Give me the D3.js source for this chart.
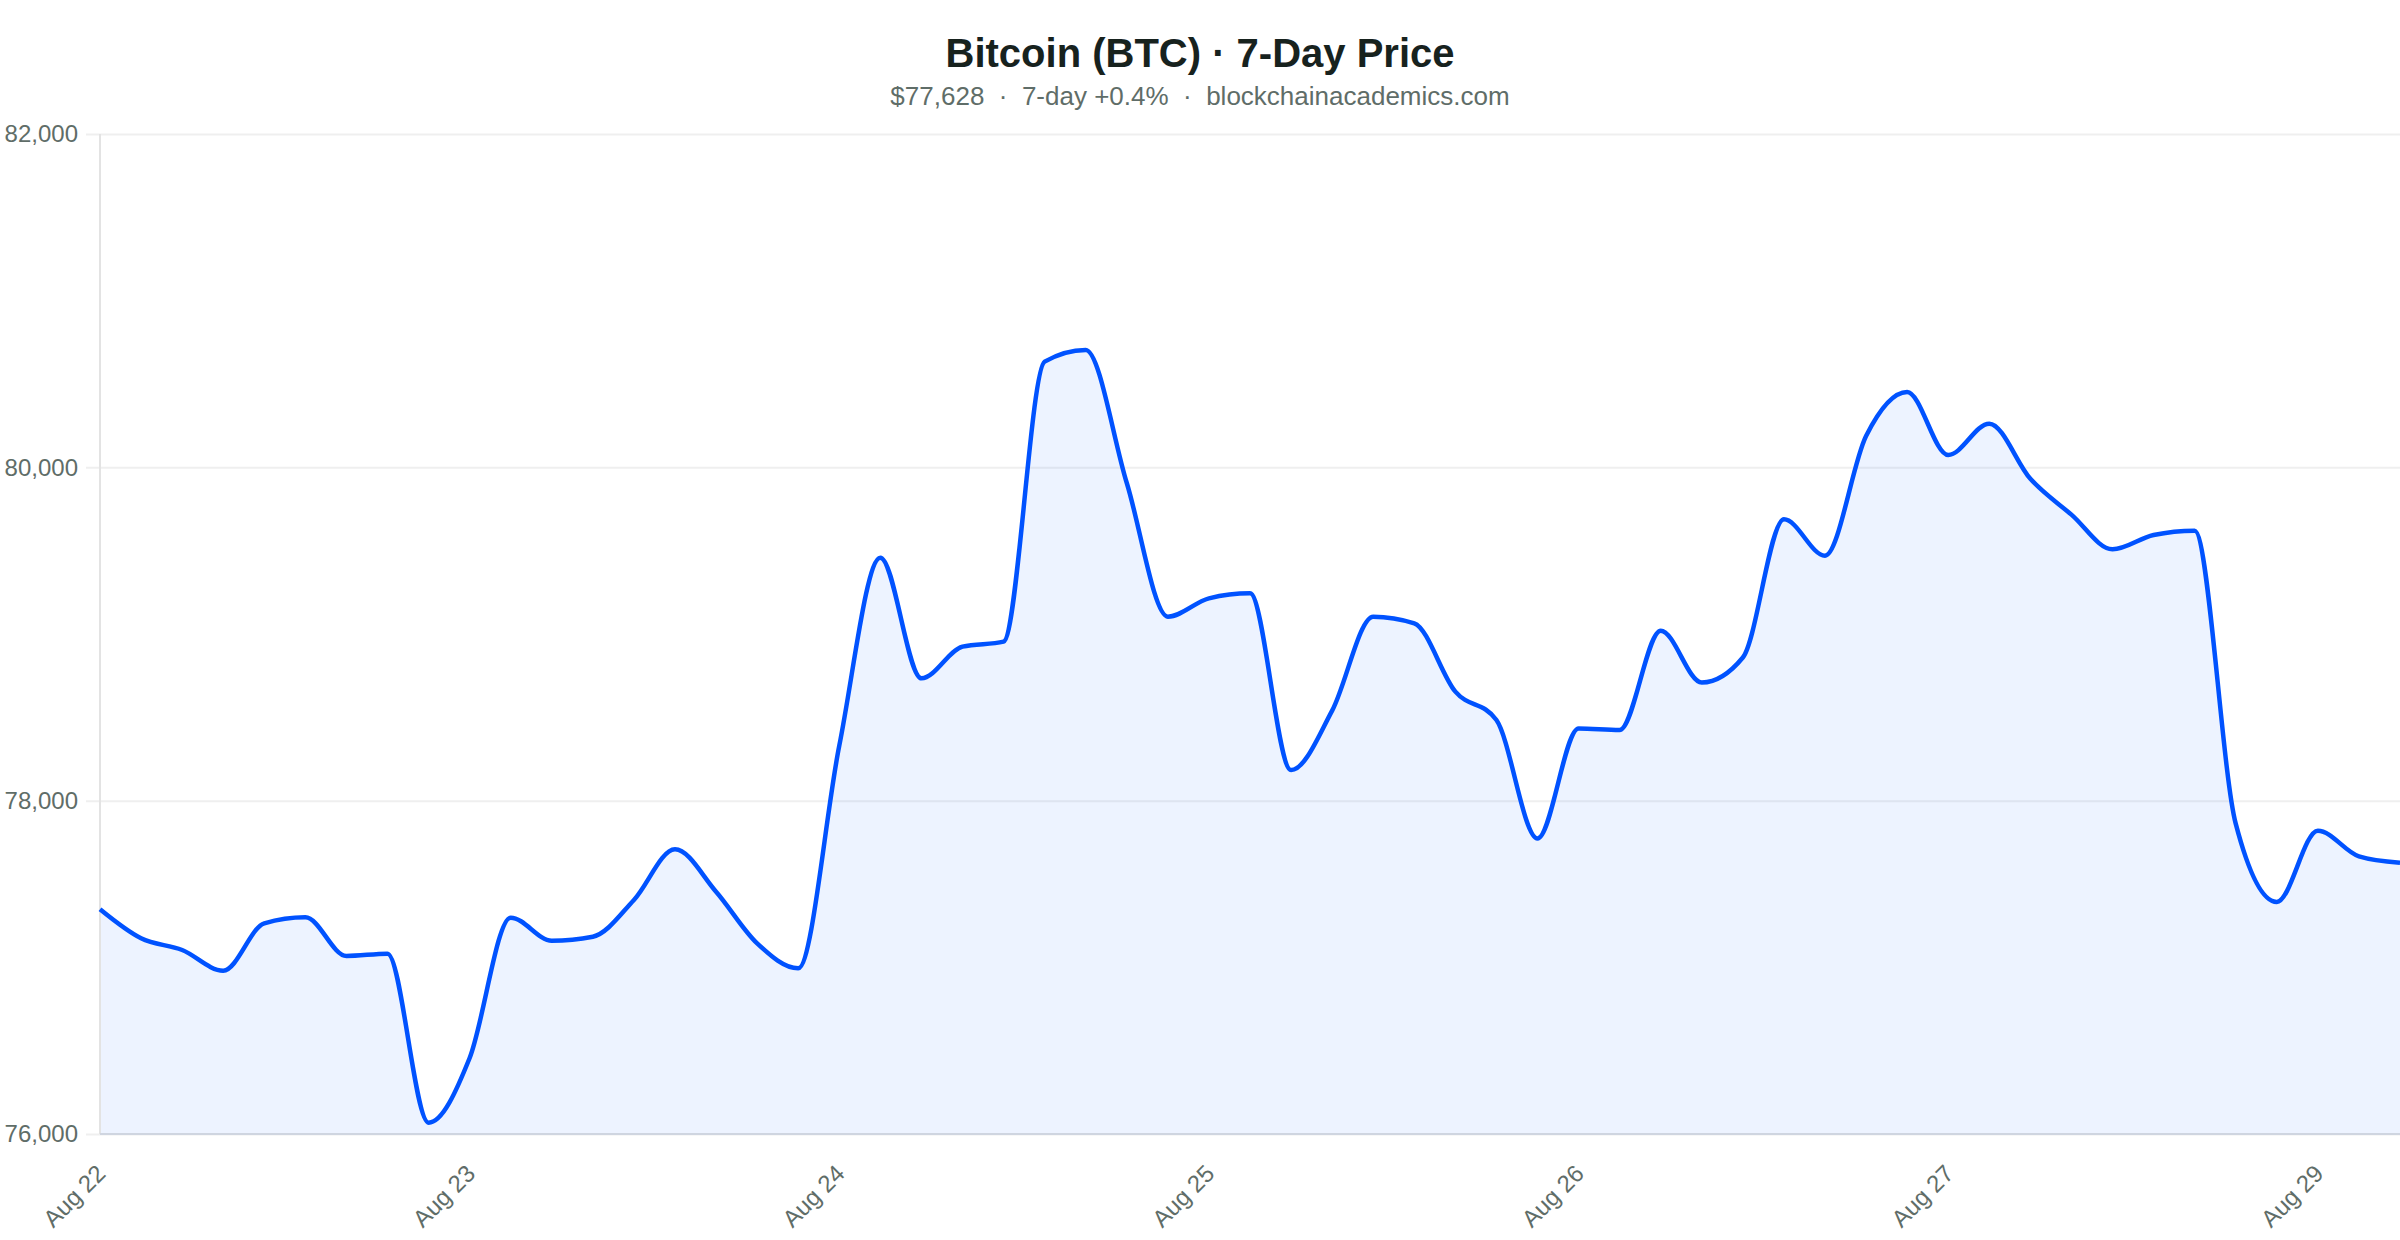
<!DOCTYPE html>
<html>
<head>
<meta charset="utf-8">
<script src="https://cdn.jsdelivr.net/npm/d3@7"></script>
<style>
  html, body { margin: 0; padding: 0; background: #ffffff; }
  svg { display: block; font-family: "Liberation Sans", Arial, Helvetica, sans-serif; }
</style>
</head>
<body>
<svg id="chart" width="2400" height="1240"></svg>
<script>
// ---- data ----
const prices = [
  77348, 77174, 77104, 76980, 77264, 77300, 77068, 77082, 76068, 76456,
  77298, 77160, 77184, 77404, 77708, 77454, 77144, 76994, 78330, 79458,
  78734, 78924, 78954, 80634, 80704, 79906, 79104, 79214, 79244, 78184,
  78540, 79104, 79064, 78654, 78484, 77773, 78433, 78424, 79020, 78709,
  78859, 79688, 79470, 80188, 80452, 80074, 80262, 79931, 79716, 79508,
  79594, 79620, 77862, 77392, 77820, 77666, 77628
];
const tickIndex = [0, 9, 18, 27, 36, 45, 54];
const tickLabels = ["Aug 22", "Aug 23", "Aug 24", "Aug 25", "Aug 26", "Aug 27", "Aug 29"];
const yTicks = [76000, 78000, 80000, 82000];
const titleText = "Bitcoin (BTC) \u00B7 7-Day Price";
const subtitleText = "$77,628  \u00B7  7-day +0.4%  \u00B7  blockchainacademics.com";

// ---- layout ----
const W = 2400, H = 1240;
const mLeft = 100, mRight = 2400, mTop = 134, mBottom = 1134;
const svg = d3.select("#chart");

const x = d3.scaleLinear().domain([0, prices.length - 1]).range([mLeft, mRight]);
const y = d3.scaleLinear().domain([76000, 82000]).range([mBottom, mTop]);

// title
svg.append("text").attr("x", W / 2).attr("y", 67).attr("text-anchor", "middle")
  .attr("font-size", 40).attr("font-weight", "bold").attr("fill", "#17221e").text(titleText);
svg.append("text").attr("x", W / 2).attr("y", 105).attr("text-anchor", "middle")
  .attr("font-size", 26).attr("fill", "#5f6d68").style("white-space", "pre").text(subtitleText);

// grid + y axis labels
const yAxis = d3.axisLeft(y).tickValues(yTicks).tickSize(-(mRight - mLeft + 14)).tickPadding(8)
  .tickFormat(d3.format(","));
const gy = svg.append("g").attr("transform", `translate(${mLeft - 14},0)`).call(yAxis);
gy.select(".domain").remove();
gy.selectAll(".tick line").attr("stroke", "#efefef").attr("stroke-width", 2);
gy.selectAll(".tick text").attr("font-size", 24).attr("fill", "#5f6d68")
  .attr("font-family", "Liberation Sans, Arial, sans-serif").attr("x", -8);

// area + line
const area = d3.area().x((d, i) => x(i)).y0(y(76000)).y1(d => y(d)).curve(d3.curveMonotoneX);
const line = d3.line().x((d, i) => x(i)).y(d => y(d)).curve(d3.curveMonotoneX);

svg.append("path").datum(prices).attr("d", area).attr("fill", "#0052ff").attr("fill-opacity", 0.07);

// y axis line
svg.append("line").attr("x1", mLeft).attr("x2", mLeft).attr("y1", mTop).attr("y2", mBottom)
  .attr("stroke", "#e3e3e3").attr("stroke-width", 2);

// x axis baseline
svg.append("line").attr("x1", mLeft).attr("x2", mRight).attr("y1", mBottom).attr("y2", mBottom)
  .attr("stroke", "#cfd5e0").attr("stroke-width", 2);

svg.append("path").datum(prices).attr("d", line).attr("fill", "none")
  .attr("stroke", "#0052ff").attr("stroke-width", 4.5).attr("stroke-linejoin", "round");

// x tick labels
const gx = svg.append("g");
tickIndex.forEach((idx, k) => {
  gx.append("text")
    .attr("transform", `translate(${x(idx) + 7},${mBottom + 41}) rotate(-45)`)
    .attr("text-anchor", "end").attr("font-size", 24).attr("fill", "#5f6d68")
    .text(tickLabels[k]);
});
</script>
</body>
</html>
